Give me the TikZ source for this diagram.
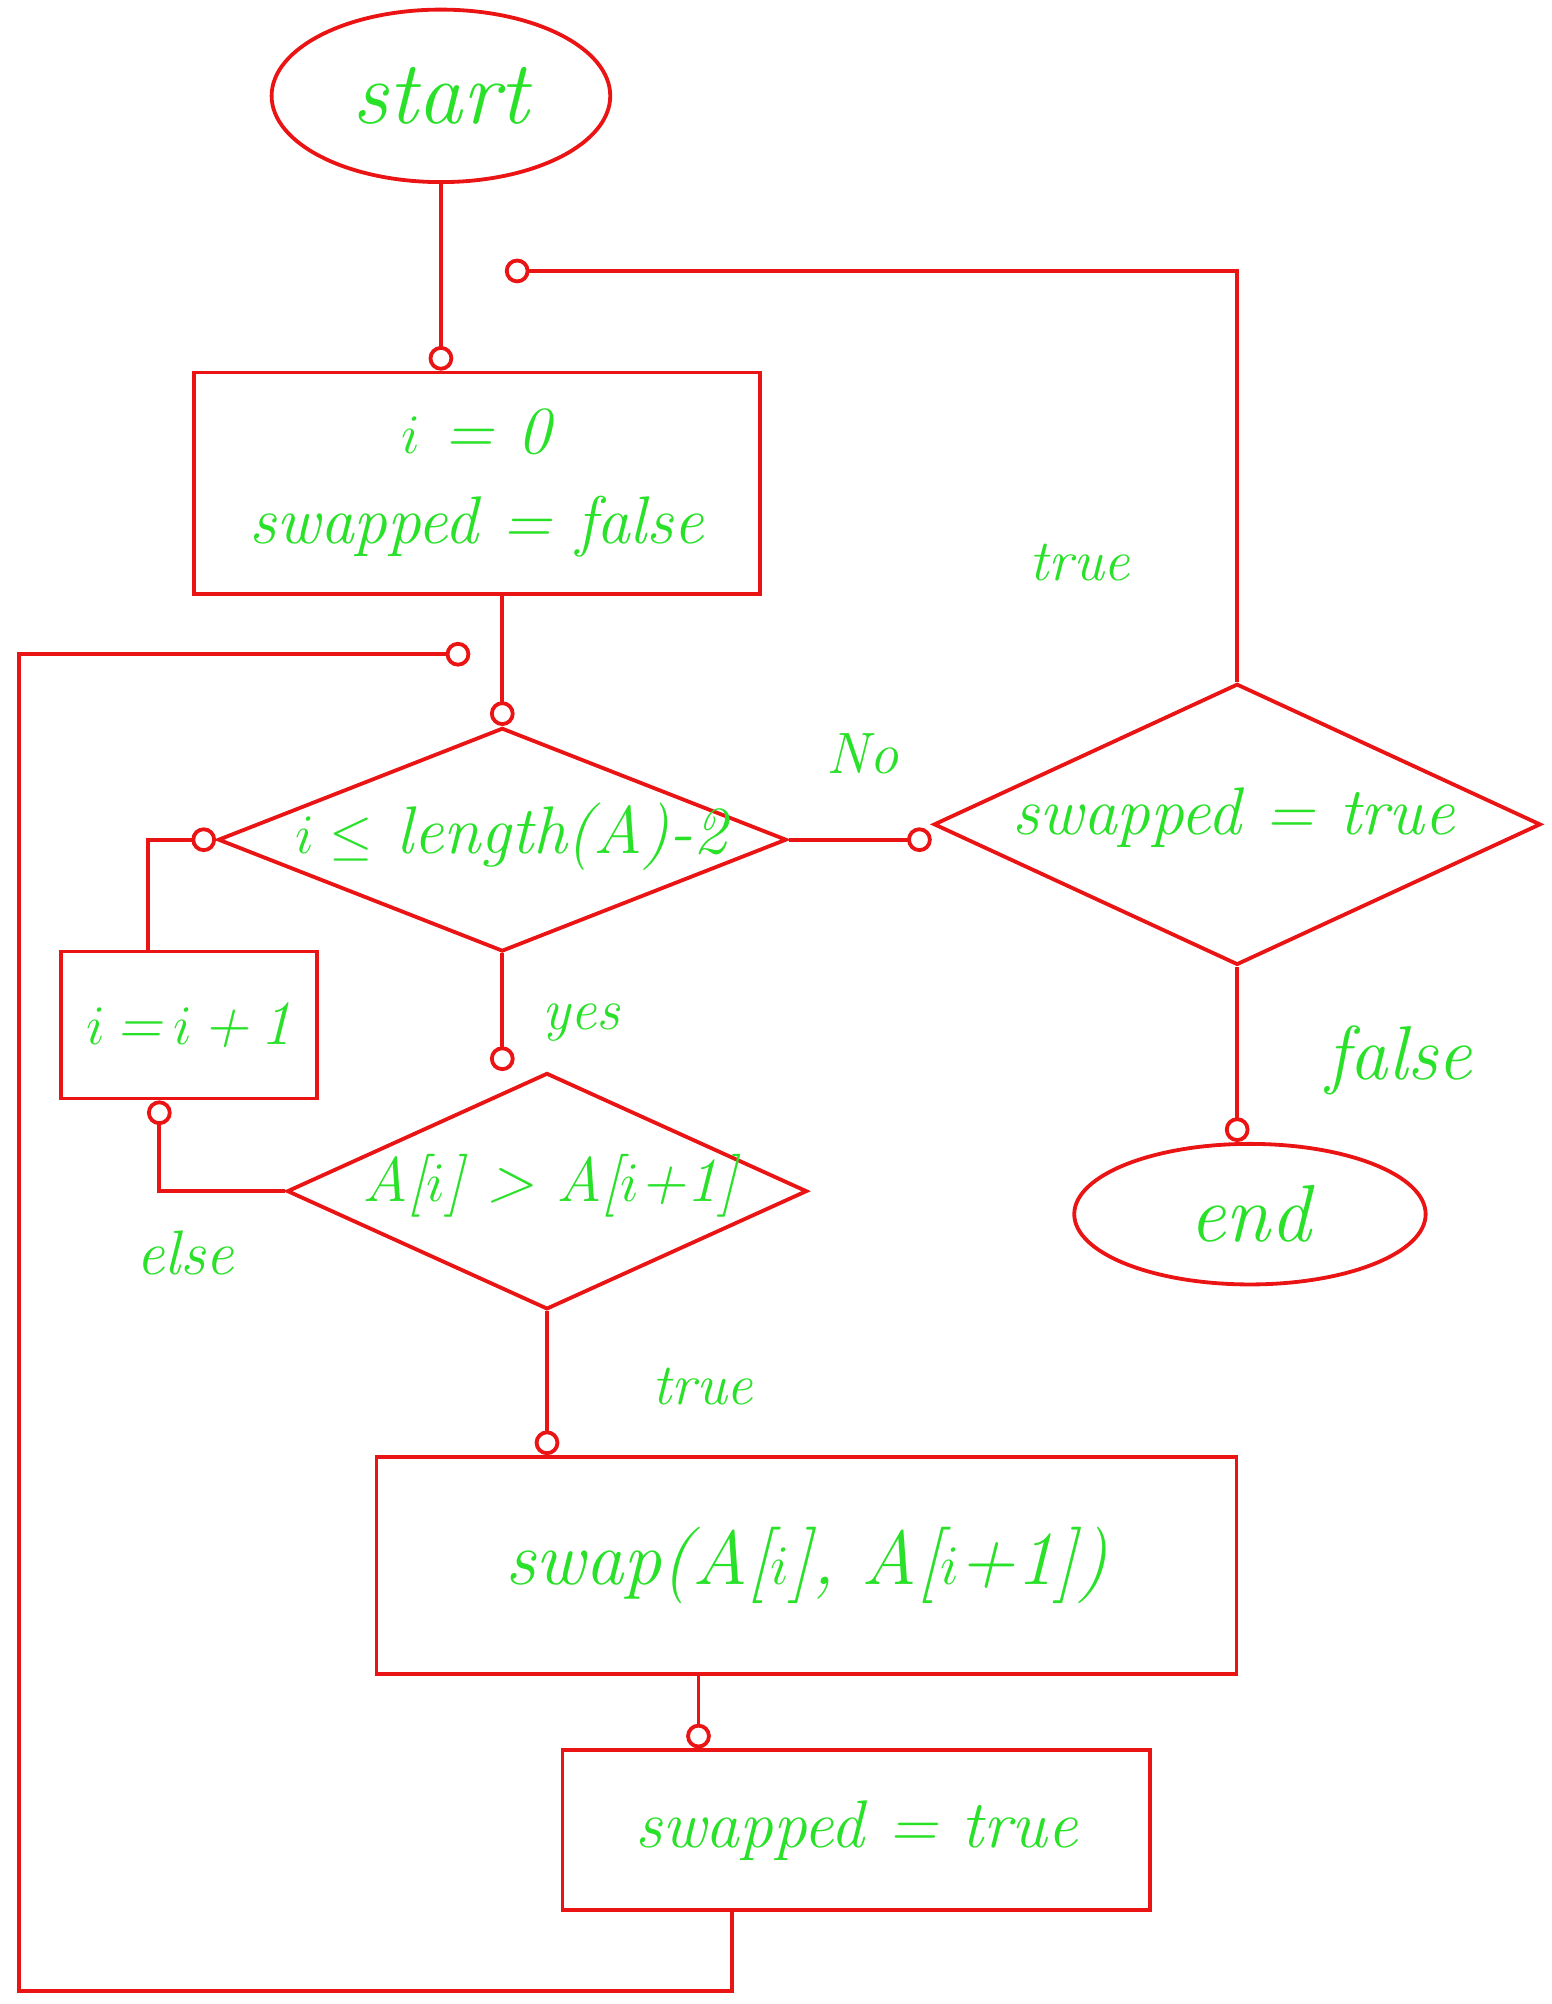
\documentclass[tikz,border=0pt]{standalone}
\usetikzlibrary{shapes.geometric,arrows.meta,calc}
\definecolor{penred}{RGB}{235,20,20}
\definecolor{pengreen}{RGB}{40,225,40}

\begin{document}
\begin{tikzpicture}[x=0.02cm,y=-0.02cm,
  line/.style={draw=penred, line width=1.7pt},
  flow/.style={line, -{Circle[open,length=11pt,width=11pt]}},
  txt/.style={text=pengreen, font=\itshape\fontsize{30}{40}\selectfont},
  lbl/.style={text=pengreen, font=\itshape\fontsize{26}{30}\selectfont}]

\useasboundingbox (0,0) rectangle (1214,1568);

% Define the sizes of the diamonds
\def\condw{8.9cm}
\def\condh{3.5cm}

% Draw start and end
\node[line, txt, ellipse, minimum width=5.3cm, minimum height=2.7cm, font=\itshape\fontsize{40}{44}\selectfont] (start) at (345,75) {start};
\node[line, txt, ellipse, minimum width=5.5cm, minimum height=2.2cm, font=\itshape\fontsize{36}{40}\selectfont] (end) at (978,950) {end};

% Draw process boxes
\node[line, txt, rectangle, minimum width=8.86cm, minimum height=3.46cm, align=center] (init) at (373,378) {$i$ = 0\\swapped = false};
\node[line, txt, rectangle, minimum width=4cm, minimum height=2.3cm, inner sep=0pt, font=\itshape\fontsize{28}{34}\selectfont] (inc) at (148,802) {$i$\,=\,$i$\,+\,1};
\node[line, txt, rectangle, minimum width=13.46cm, minimum height=3.4cm, font=\itshape\fontsize{34}{40}\selectfont] (swap) at (631,1225) {swap(A[$i$], A[$i$+1])};
\node[line, txt, rectangle, minimum width=9.2cm, minimum height=2.5cm] (setsw) at (670,1432) {swapped = true};

% Draw decision diamonds
\node[line, diamond, minimum width=\condw, minimum height=\condh, inner sep=0pt] (cond) at (393,657) {};
\node[txt] (cond-txt) at (400,655) {$i \leq$ length(A)-2};
\node[line, diamond, minimum width=9.5cm, minimum height=4.4cm, inner sep=0pt] (done) at (968,645) {};
\node[txt] (done-txt) at (965,640) {swapped = true};
\node[line, diamond, minimum width=8.14cm, minimum height=3.7cm, inner sep=0pt] (cmp) at (428,932) {};
\node[txt, font=\itshape\fontsize{28}{34}\selectfont] (cmp-txt) at (430,928) {A[$i$] > A[$i$+1]};

% Connectors
\draw[flow] (start.south) -- (start.south |- init.north);
\draw[flow] (cond.north |- init.south) -- coordinate[pos=0.45] (join) (cond.north);
\draw[flow] (cond.east) -- (cond.east -| done.west);
\draw[flow] (done.south) -- (done.south |- end.north);
\coordinate (back) at (395,212);
\draw[flow] (done.north) |- (back);
\draw[flow] (cond.south) -- (cond.south |- cmp.north);
\draw[flow] (cmp.south) -- (cmp.south |- swap.north);
\coordinate (swapout) at ($(swap.south west)!0.375!(swap.south east)$);
\draw[flow] (swapout) -- (swapout |- setsw.north);
\coordinate (elsein) at ($(inc.south west)!0.385!(inc.south east)$);
\draw[flow] (cmp.west) -| (elsein);
\coordinate (incout) at ($(inc.north west)!0.34!(inc.north east)$);
\draw[flow] (incout) |- (cond.west);

% Loop back from the last box
\coordinate (loopout) at ($(setsw.south west)!0.29!(setsw.south east)$);
\coordinate (corner) at (15,1558);
\draw[flow, shorten >=0.5cm] (loopout) |- (corner) |- (join);

% Labels on the branches
\node[lbl] (no-lbl) at (675,590) {No};
\node[lbl] (true-lbl) at (845,440) {true};
\node[lbl, font=\itshape\fontsize{34}{40}\selectfont] (false-lbl) at (1095,830) {false};
\node[lbl] (yes-lbl) at (455,800) {yes};
\node[lbl, font=\itshape\fontsize{28}{32}\selectfont] (else-lbl) at (145,980) {else};
\node[lbl] (true2-lbl) at (550,1085) {true};

\end{tikzpicture}
\end{document}
